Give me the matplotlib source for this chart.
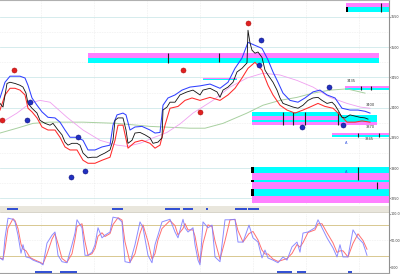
import matplotlib
matplotlib.use('Agg')
import matplotlib.pyplot as plt
import pandas as pd

# --- bar index / price series ---
close_x = [0, 3, 7, 10, 15, 20, 23, 26, 28, 32, 37, 40, 45, 50, 53, 58, 62, 65, 68, 72, 77, 80, 83, 88, 92, 97,
           100, 105, 110, 113, 115, 118, 123, 126, 128, 132, 135, 140, 145, 150, 153, 158, 162, 163, 167, 170, 175,
           180, 187, 193, 200, 203, 210, 217, 220, 223, 228, 233, 237, 242, 247, 248, 250, 252, 255, 258, 262, 265,
           268, 273, 277, 280, 283, 288, 293, 298, 303, 308, 313, 318, 322, 327, 332, 335, 338, 342, 345, 350, 355,
           360, 365, 368]
close_y = [3407, 3401, 3440, 3442, 3440, 3437, 3434, 3424, 3407, 3399, 3391, 3379, 3374, 3371, 3374, 3363, 3355,
           3343, 3338, 3341, 3341, 3338, 3325, 3317, 3318, 3318, 3321, 3325, 3330, 3346, 3379, 3383, 3383, 3363,
           3341, 3346, 3358, 3359, 3355, 3350, 3341, 3343, 3350, 3396, 3401, 3409, 3409, 3421, 3426, 3429, 3421,
           3429, 3432, 3426, 3417, 3429, 3434, 3442, 3459, 3465, 3474, 3528, 3507, 3495, 3490, 3492, 3483, 3462,
           3454, 3442, 3429, 3416, 3407, 3404, 3401, 3399, 3404, 3412, 3416, 3417, 3412, 3407, 3409, 3404, 3396,
           3384, 3383, 3388, 3386, 3384, 3383, 3381]

upper_x = [0, 5, 10, 15, 20, 25, 28, 32, 37, 42, 48, 55, 60, 65, 70, 77, 83, 88, 95, 102, 110, 113, 117, 123, 126,
           130, 135, 142, 150, 155, 160, 163, 168, 175, 182, 190, 200, 210, 220, 228, 235, 242, 248, 255, 262, 268,
           273, 278, 283, 290, 298, 305, 313, 320, 327, 335, 342, 350, 358, 365, 370]
upper_y = [3416, 3442, 3452, 3452, 3452, 3449, 3437, 3416, 3404, 3393, 3384, 3383, 3376, 3363, 3351, 3351, 3346,
           3330, 3330, 3335, 3338, 3371, 3388, 3391, 3388, 3363, 3368, 3369, 3363, 3358, 3359, 3404, 3416, 3421,
           3429, 3434, 3436, 3439, 3432, 3442, 3465, 3482, 3508, 3503, 3498, 3479, 3459, 3442, 3424, 3412, 3409,
           3416, 3426, 3429, 3421, 3416, 3399, 3396, 3396, 3394, 3391]

lower_x = [0, 5, 10, 15, 20, 25, 28, 32, 37, 42, 48, 55, 60, 65, 70, 77, 83, 88, 95, 102, 110, 115, 118, 123, 128,
           135, 142, 150, 155, 160, 165, 170, 178, 185, 192, 200, 210, 220, 228, 235, 242, 248, 255, 262, 268, 273,
           280, 287, 295, 303, 310, 318, 325, 333, 340, 347, 355, 362, 370]
lower_y = [3396, 3421, 3432, 3432, 3429, 3421, 3399, 3393, 3383, 3368, 3363, 3363, 3351, 3335, 3330, 3330, 3313,
           3308, 3308, 3313, 3318, 3346, 3371, 3371, 3333, 3343, 3346, 3341, 3333, 3338, 3371, 3399, 3402, 3412,
           3416, 3412, 3417, 3412, 3421, 3432, 3449, 3465, 3475, 3462, 3437, 3421, 3404, 3396, 3391, 3396, 3401,
           3407, 3402, 3399, 3388, 3376, 3376, 3378, 3376]

ma_fast_x = [5, 17, 25, 33, 40, 50, 67, 83, 100, 117, 127, 140, 153, 167, 180, 193, 213, 230, 247, 263, 280, 297,
             313, 330, 347, 360, 370]
ma_fast_y = [3379, 3391, 3401, 3409, 3412, 3409, 3384, 3363, 3346, 3338, 3336, 3341, 3350, 3359, 3373, 3391, 3412,
             3434, 3449, 3457, 3454, 3445, 3434, 3417, 3407, 3401, 3399]

ma_slow_x = [0, 17, 33, 50, 83, 117, 150, 190, 205, 223, 247, 263, 280, 297, 313, 330, 347, 365]
ma_slow_y = [3358, 3366, 3374, 3376, 3376, 3374, 3369, 3366, 3366, 3374, 3391, 3404, 3412, 3417, 3424, 3429, 3431,
             3424]

red_dots = [(14, 3462), (183, 3462), (248, 3540), (2, 3379), (200, 3393)]
blue_dots = [(30, 3409), (27, 3379), (78, 3351), (71, 3285), (85, 3295), (261, 3512), (259, 3470), (302, 3368),
             (343, 3371), (329, 3434)]

# zones: (x0, x1, p_low, p_high, colour)
zones = [
    (88, 379, 3482, 3490, 'm'), (88, 379, 3474, 3482, 'c'),
    (346, 390, 3566, 3573, 'm'), (346, 390, 3558, 3566, 'c'),
    (345, 390, 3432, 3436, 'm'), (345, 390, 3429, 3432, 'c'),
    (203, 237, 3447, 3449, 'm'), (203, 237, 3445, 3447, 'c'),
    (252, 338, 3386, 3393, 'c'), (252, 338, 3379, 3386, 'm'), (338, 377, 3379, 3388, 'c'),
    (252, 377, 3376, 3379, 'c'), (252, 377, 3371, 3376, 'm'),
    (332, 390, 3355, 3358, 'm'), (332, 390, 3351, 3355, 'c'),
    (252, 390, 3292, 3302, 'c'), (252, 390, 3280, 3292, 'm'), (252, 390, 3277, 3280, 'c'),
    (252, 390, 3265, 3277, 'm'), (252, 390, 3254, 3265, 'c'), (252, 390, 3242, 3254, 'm'),
]
zone_ticks = [(168, 3474, 3490), (219, 3476, 3490), (381, 3558, 3573), (361, 3429, 3436), (371, 3429, 3436),
              (283, 3371, 3393), (293, 3371, 3393), (305, 3371, 3393), (338, 3371, 3393), (358, 3351, 3358),
              (379, 3351, 3358), (358, 3280, 3302), (377, 3265, 3277)]
zone_blocks = [(251, 254, 3292, 3302), (251, 254, 3277, 3280), (251, 254, 3254, 3265), (346, 348, 3558, 3566)]
zone_labels = [(347, 3440, '3435'), (366, 3401, '3400'), (366, 3364, '3370'), (365, 3345, '3345')]

# oscillator (blue line)
osc_x = [0, 3, 5, 8, 13, 15, 18, 21, 23, 26, 30, 33, 37, 40, 43, 47, 52, 55, 58, 62, 67, 72, 75, 77, 82, 85, 88, 92,
         95, 98, 102, 105, 110, 113, 118, 122, 125, 130, 135, 140, 143, 148, 152, 155, 158, 162, 170, 175, 178, 183,
         185, 188, 193, 195, 198, 200, 203, 208, 212, 215, 220, 225, 230, 235, 238, 243, 249, 253, 258, 262, 265,
         268, 273, 278, 283, 287, 292, 297, 300, 303, 308, 315, 318, 322, 327, 333, 337, 340, 343, 348, 353, 358,
         363, 367]
osc_k = [17, 13, 55, 92, 90, 85, 60, 26, 42, 19, 17, 13, 10, 8, 4, 45, 60, 66, 22, 10, 8, 42, 64, 89, 74, 22, 22, 28,
         42, 74, 55, 60, 66, 94, 92, 85, 10, 8, 42, 85, 74, 22, 8, 42, 60, 85, 90, 66, 55, 90, 74, 66, 74, 42, 13, 4,
         85, 74, 79, 19, 10, 89, 89, 90, 47, 47, 79, 55, 47, 17, 32, 17, 13, 8, 19, 13, 38, 47, 28, 64, 66, 74, 89,
         74, 55, 36, 19, 42, 19, 19, 70, 55, 45, 22]
top_marks = [(7, 18), (112, 123), (165, 180), (183, 193), (206, 208), (235, 247), (248, 259)]
bottom_marks = [(35, 52), (60, 77), (277, 292), (297, 306), (348, 352)]

MAGENTA = '#ff80ff'
CYAN = '#00ffff'
W, H = 400, 274
TICK_FS = 2.4

fig = plt.figure(figsize=(W / 100, H / 100), dpi=100)
ax = fig.add_axes([0, 1 - 205 / H, 389 / W, 205 / H])
ax2 = fig.add_axes([0, 1 - 273 / H, 389 / W, 67 / H])

# --- main pane ---
ax.set_xlim(0, 389)
ax.set_ylim(3239, 3578)
for lvl in [3250, 3300, 3350, 3400, 3450, 3500, 3550]:
    ax.axhline(lvl, color='#cfe9ea', lw=0.6, zorder=0)
for lvl in [3275, 3325, 3375, 3425, 3475, 3525]:
    ax.axhline(lvl, color='#dcdcdc', lw=0.4, ls=(0, (1, 2)), zorder=0)
for gx in [41, 94, 147, 200, 253, 306, 359]:
    ax.axvline(gx, color='#dcdcdc', lw=0.4, ls=(0, (1, 2)), zorder=0)

for x0, x1, p0, p1, c in zones:
    ax.fill_between([x0, x1], p0, p1, color=MAGENTA if c == 'm' else CYAN, lw=0, zorder=1)
for x0, x1, p0, p1 in zone_blocks:
    ax.fill_between([x0, x1], p0, p1, color='black', lw=0, zorder=2)
for tx, p0, p1 in zone_ticks:
    ax.vlines(tx, p0, p1, color='#202020', lw=0.8, zorder=2)
for tx, ty, t in zone_labels:
    ax.text(tx, ty, t, fontsize=2.6, color='#303030', va='bottom', zorder=5)
ax.text(345, 3345, 'A', fontsize=2.6, color='#3050e0', va='top')
ax.text(345, 3297, 'A', fontsize=2.6, color='#3050e0', va='top')

ax.plot(ma_slow_x, ma_slow_y, color='#a8d0a0', lw=0.7, zorder=3)
ax.plot(ma_fast_x, ma_fast_y, color='#f0a0f0', lw=0.6, zorder=3)
ax.plot(lower_x, lower_y, color='#ff2a2a', lw=0.75, zorder=4)
ax.plot(upper_x, upper_y, color='#3040ff', lw=0.75, zorder=4)
ax.plot(close_x, close_y, color='#101010', lw=0.6, zorder=5)

for dx, dy in red_dots:
    ax.plot(dx, dy, 'o', ms=3.6, mfc='#e02020', mec='#b01010', mew=0.4, zorder=6)
for dx, dy in blue_dots:
    ax.plot(dx, dy, 'o', ms=3.6, mfc='#2030c0', mec='#101080', mew=0.4, zorder=6)

ax.yaxis.tick_right()
ax.set_yticks([3250, 3300, 3350, 3400, 3450, 3500, 3550])
ax.set_yticklabels(['3250', '3300', '3350', '3400', '3450', '3500', '3550'])
ax.tick_params(axis='y', labelsize=TICK_FS, length=1, pad=0.5, colors='#404040')
ax.set_xticks([])
for s in ['left', 'bottom']:
    ax.spines[s].set_visible(False)
ax.spines['top'].set_color('#b0b0b0')
ax.spines['right'].set_color('#909090')

# --- oscillator pane ---
osc_d = pd.Series(osc_k).rolling(2, min_periods=1).mean()
ax2.set_xlim(0, 389)
ax2.set_ylim(-11.3, 115)
ax2.axhspan(104, 115, color='#e9e6dc', lw=0, zorder=0)
ax2.axhline(104, color='#c8c4b4', lw=0.5)
for lvl in [80, 20]:
    ax2.axhline(lvl, color='#d8c890', lw=0.7, zorder=1)
ax2.axhline(50, color='#dcdcdc', lw=0.4, ls=(0, (1, 2)), zorder=1)
for gx in [41, 94, 147, 200, 253, 306, 359]:
    ax2.axvline(gx, ymax=0.9, color='#dcdcdc', lw=0.4, ls=(0, (1, 2)), zorder=0)
ax2.plot(osc_x, osc_d, color='#ff7070', lw=0.7, zorder=3)
ax2.plot(osc_x, osc_k, color='#8080ff', lw=0.7, zorder=3, alpha=0.9)
for a, b in top_marks:
    ax2.hlines(108.5, a, b, color='#2040d0', lw=1.3, zorder=4)
for a, b in bottom_marks:
    ax2.hlines(-9.5, a, b, color='#2040d0', lw=1.3, zorder=4)

ax2.yaxis.tick_right()
ax2.set_yticks([0, 50, 100])
ax2.set_yticklabels(['0.00', '50.00', '100.0'])
ax2.tick_params(axis='y', labelsize=TICK_FS, length=1, pad=0.5, colors='#404040')
ax2.set_xticks([])
for s in ['left', 'top']:
    ax2.spines[s].set_visible(False)
ax2.spines['bottom'].set_color('#a0a0a0')
ax2.spines['right'].set_color('#909090')

fig.savefig('out.png', dpi=100)
